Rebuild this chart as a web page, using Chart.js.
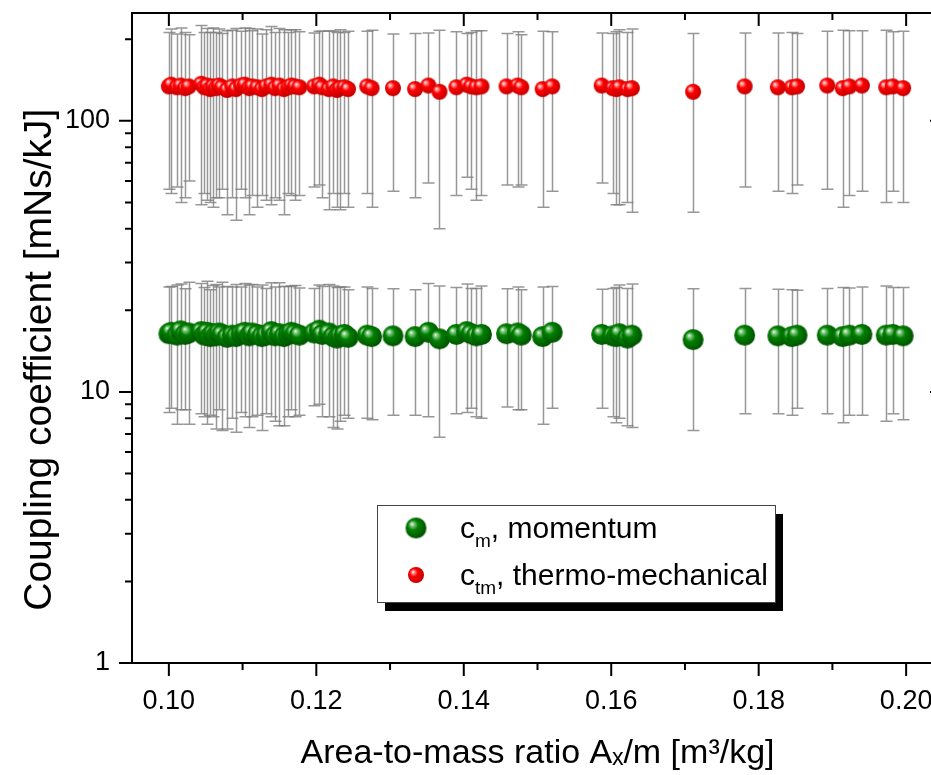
<!DOCTYPE html>
<html><head><meta charset="utf-8">
<script src="https://cdn.jsdelivr.net/npm/chart.js@4.4.0/dist/chart.umd.min.js"></script>
<style>
html,body{margin:0;padding:0;background:#fff;overflow:hidden;width:931px;height:775px}
#wrap{position:absolute;left:0;top:0;width:960px;height:775px}
canvas{display:block}
</style></head>
<body><div id="wrap"><canvas id="c" width="960" height="775"></canvas></div>
<script>
// ---- data ----
const areaToMass = [
 0.1000,0.1003,0.1011,0.1016,0.1022,0.1027,0.1044,0.1048,0.1052,0.1056,
 0.1060,0.1064,0.1068,0.1072,0.1079,0.1086,0.1091,0.1098,0.1103,0.1109,
 0.1113,0.1120,0.1126,0.1132,0.1139,0.1144,0.1150,0.1156,0.1162,0.1166,
 0.1171,0.1177,0.1197,0.1204,0.1208,0.1217,0.1223,0.1228,0.1232,0.1238,
 0.1243,0.1269,0.1275,0.1304,0.1334,0.1352,0.1367,0.1390,0.1404,0.1410,
 0.1417,0.1424,0.1458,0.1473,0.1478,0.1507,0.1520,0.1587,0.1602,0.1607,
 0.1611,0.1622,0.1628,0.1711,0.1781,0.1826,0.1845,0.1852,0.1893,0.1914,
 0.1923,0.1940,0.1973,0.1982,0.1996];
const cmMomentum = [
 16.4,16.6,16.2,16.8,16.3,16.5,16.7,16.2,16.6,16.0,
 16.4,16.1,16.5,16.3,15.9,16.2,16.0,16.4,16.6,16.1,
 16.5,16.3,16.0,16.2,16.7,16.1,16.4,16.0,16.3,16.6,
 16.4,16.2,16.5,16.9,16.3,16.5,16.0,15.8,16.1,16.3,
 15.9,16.2,16.0,16.1,16.0,16.6,15.7,16.3,16.7,16.4,
 16.1,16.3,16.4,16.5,16.2,16.0,16.6,16.3,16.1,16.0,
 16.4,15.8,16.2,15.6,16.2,16.1,16.0,16.2,16.2,16.0,
 16.2,16.3,16.2,16.3,16.1];
const cmError = [
 8.0,7.9,8.6,8.2,7.7,8.9,8.4,8.1,9.0,7.8,
 8.3,8.8,7.9,9.1,8.6,8.2,8.9,8.0,8.5,8.7,
 8.4,8.1,8.8,7.9,8.6,8.3,8.9,8.5,8.2,8.0,
 8.3,8.0,7.6,7.9,8.2,8.4,8.6,8.5,8.3,8.1,
 7.9,8.2,8.1,7.9,7.8,8.5,8.9,8.0,8.3,7.7,
 8.0,8.3,7.6,7.9,7.6,8.4,7.9,7.6,8.0,8.3,
 8.4,8.3,8.8,8.4,7.9,7.8,7.8,7.5,7.9,8.3,
 8.0,8.1,8.4,8.0,8.2];
const ctmThermo = [
 134,136,133,135,132,134,137,133,135,131,
 134,132,135,133,130,134,131,135,136,132,
 134,133,131,134,136,132,135,131,133,135,
 134,133,134,136,133,131,134,130,132,133,
 131,134,132,132,131,135,128,133,136,134,
 133,134,134,135,133,131,134,135,132,131,
 133,131,132,128,134,133,133,134,135,132,
 134,135,133,134,132];
const ctmError = [
 78,82,76,85,80,74,88,79,84,81,
 86,80,83,77,85,82,88,79,84,87,
 81,85,78,83,87,80,84,86,79,82,
 83,80,77,78,81,84,80,82,85,79,
 83,80,84,77,79,76,88,80,74,78,
 82,81,76,78,75,83,79,76,78,82,
 84,81,86,82,77,78,79,76,79,84,
 81,80,83,79,82];
const xMajorTicks = [0.10,0.12,0.14,0.16,0.18,0.20];
const xMinorTicks = [0.11,0.13,0.15,0.17,0.19];
const yMajorTicks = [1,10,100];
const yMinorTicks = [2,3,4,5,6,7,8,9,20,30,40,50,60,70,80,90,200];
const seriesLabels = ['cₘ, momentum','cₜₘ, thermo-mechanical'];
const xTitle = 'Area-to-mass ratio Aₓ/m [m³/kg]';
const yTitle = 'Coupling coefficient [mNs/kJ]    ';

const FONT = '"Liberation Sans", Arial, Helvetica, sans-serif';

function ball(r, light, base, dark){
  const s = Math.ceil(2*r+2);
  const c = document.createElement('canvas'); c.width = s; c.height = s;
  const g = c.getContext('2d'); const cx = s/2, cy = s/2;
  const grd = g.createRadialGradient(cx-0.4*r, cy-0.4*r, 0, cx-0.1*r, cy-0.1*r, r*1.15);
  grd.addColorStop(0,'#ffffff'); grd.addColorStop(0.14, light);
  grd.addColorStop(0.42, base); grd.addColorStop(1, dark);
  g.fillStyle = grd; g.beginPath(); g.arc(cx,cy,r,0,Math.PI*2); g.fill();
  return c;
}
const greenBall = ball(10.5,'#8fd08f','#008000','#005000');
const redBall = ball(8,'#ffa0a0','#ff0000','#c00000');

const errorBars = {
  id:'errorBars',
  beforeDatasetsDraw(chart){
    const {ctx, scales:{x,y}} = chart;
    ctx.save();
    ctx.strokeStyle = 'rgba(125,125,125,0.8)'; ctx.lineWidth = 1.5;
    [[cmMomentum,cmError],[ctmThermo,ctmError]].forEach(([v,e])=>{
      areaToMass.forEach((xv,i)=>{
        const px = Math.round(x.getPixelForValue(xv))+0.5;
        const top = y.getPixelForValue(v[i]+e[i]);
        const bot = y.getPixelForValue(v[i]-e[i]);
        ctx.beginPath();
        ctx.moveTo(px,top); ctx.lineTo(px,bot);
        ctx.moveTo(px-6,top); ctx.lineTo(px+6,top);
        ctx.moveTo(px-6,bot); ctx.lineTo(px+6,bot);
        ctx.stroke();
      });
    });
    ctx.restore();
  }
};

const frameTicks = {
  id:'frameTicks',
  afterDraw(chart){
    const {ctx, chartArea:a, scales:{x,y}} = chart;
    ctx.save();
    ctx.strokeStyle = '#000'; ctx.lineWidth = 2;
    ctx.strokeRect(a.left, a.top, a.right-a.left, a.bottom-a.top);
    ctx.beginPath();
    const tx = (vals,len)=>vals.forEach(v=>{
      const p = x.getPixelForValue(v);
      ctx.moveTo(p,a.bottom); ctx.lineTo(p,a.bottom+len);
      ctx.moveTo(p,a.top); ctx.lineTo(p,a.top+len);
    });
    const ty = (vals,len)=>vals.forEach(v=>{
      const p = y.getPixelForValue(v);
      ctx.moveTo(a.left,p); ctx.lineTo(a.left-len,p);
      ctx.moveTo(a.right,p); ctx.lineTo(a.right-len,p);
    });
    tx(xMajorTicks,13); tx(xMinorTicks,7);
    ty(yMajorTicks,13); ty(yMinorTicks,7);
    ctx.stroke();
    ctx.restore();
  }
};

const subMap = {'ₘ':'m','ₜ':'t','ₓ':'x'};
function drawRich(ctx, text, x, y, size){
  let i = 0;
  while(i < text.length){
    const isSub = !!subMap[text[i]];
    let run = '';
    while(i < text.length && (!!subMap[text[i]]) === isSub){ run += isSub ? subMap[text[i]] : text[i]; i++; }
    if(isSub){
      ctx.font = Math.round(size*0.62)+'px '+FONT;
      ctx.fillText(run, x, y + size*0.3);
    } else {
      ctx.font = size+'px '+FONT;
      ctx.fillText(run, x, y);
    }
    x += ctx.measureText(run).width;
  }
}

const boxLegend = {
  id:'boxLegend',
  afterDraw(chart){
    const {ctx} = chart;
    const L = 377, T = 505, W = 398, H = 97;
    ctx.save();
    ctx.fillStyle = '#000'; ctx.fillRect(L+8, T+9, W, H);
    ctx.fillStyle = '#fff'; ctx.fillRect(L, T, W, H);
    ctx.strokeStyle = '#444'; ctx.lineWidth = 1; ctx.strokeRect(L+0.5, T+0.5, W, H);
    const imgs = [greenBall, redBall];
    const rows = [528, 575];
    ctx.fillStyle = '#000'; ctx.textBaseline = 'alphabetic'; ctx.textAlign = 'left';
    chart.data.datasets.forEach((ds,k)=>{
      const im = imgs[k];
      ctx.drawImage(im, 416 - im.width/2, rows[k] - im.height/2);
      drawRich(ctx, ds.label, 460, rows[k] + 10, 30);
    });
    ctx.restore();
  }
};

new Chart(document.getElementById('c'), {
  type:'scatter',
  data:{
    datasets:[
      {label:seriesLabels[0], data:areaToMass.map((v,i)=>({x:v,y:cmMomentum[i]})), pointStyle:greenBall, pointRadius:10, showLine:false},
      {label:seriesLabels[1], data:areaToMass.map((v,i)=>({x:v,y:ctmThermo[i]})), pointStyle:redBall, pointRadius:8, showLine:false}
    ]
  },
  options:{
    responsive:false, animation:false, devicePixelRatio:1,
    layout:{padding:{left:0,right:17,top:13,bottom:0}},
    plugins:{legend:{display:false}, tooltip:{enabled:false}},
    scales:{
      x:{type:'linear', min:0.095, max:0.205,
        afterBuildTicks(s){ s.ticks = xMajorTicks.map(v=>({value:v})); },
        afterFit(s){ s.height = 112; s.paddingLeft = 0; s.paddingRight = 0; },
        ticks:{callback:v=>Number(v).toFixed(2), font:{family:FONT,size:27}, color:'#000', padding:9, maxRotation:0, autoSkip:false},
        grid:{drawOnChartArea:false, tickLength:13, tickColor:'rgba(0,0,0,0)'},
        border:{display:false},
        title:{display:true, text:xTitle, color:'#000', font:{family:FONT,size:34}, padding:{top:0,bottom:1}}
      },
      y:{type:'logarithmic', min:1, max:250,
        afterBuildTicks(s){ s.ticks = yMajorTicks.map(v=>({value:v})); },
        afterFit(s){ s.width = 132; s.paddingTop = 0; s.paddingBottom = 0; },
        ticks:{callback:v=>String(v), font:{family:FONT,size:27}, color:'#000', padding:9, autoSkip:false},
        grid:{drawOnChartArea:false, tickLength:13, tickColor:'rgba(0,0,0,0)'},
        border:{display:false},
        title:{display:true, text:yTitle, color:'#000', font:{family:FONT,size:39}, padding:{top:17,bottom:0}}
      }
    }
  },
  plugins:[errorBars, frameTicks, boxLegend]
});
</script>
</body></html>
